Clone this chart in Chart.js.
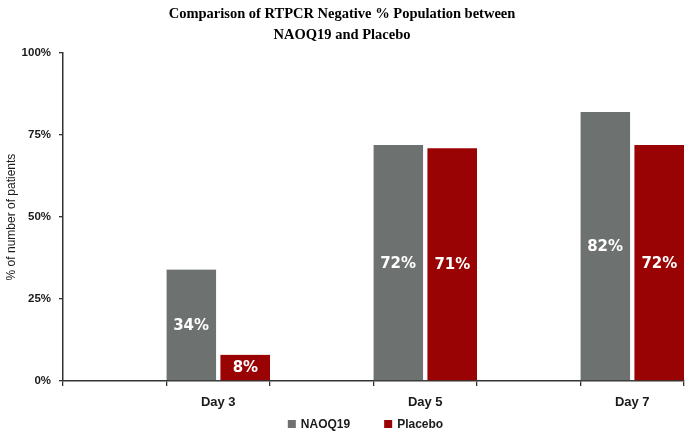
<!DOCTYPE html>
<html><head><meta charset="utf-8">
<script src="https://cdn.jsdelivr.net/npm/chart.js@4.4.0/dist/chart.umd.min.js"></script>
<style>html,body{margin:0;padding:0;background:#fff;} canvas{display:block;}</style>
</head><body>
<canvas id="c" width="685" height="433"></canvas>
<script>
// ---- data ----
const categories = ['Day 3', 'Day 5', 'Day 7'];
const naoq19 = [34, 72, 82];
const placebo = [8, 71, 72];
const yTicks = [0, 25, 50, 75, 100];
const seriesNames = ['NAOQ19', 'Placebo'];
const titleLines = ['Comparison of RTPCR Negative % Population between', 'NAOQ19 and Placebo'];
const yTitle = '% of number of patients';

// ---- styles ----
const colors = ['#6d716f', '#9a0303'];
const axisColor = '#333333';
const textColor = '#1a1a1a';

// In the original, every category is preceded by an empty half-slot
const xLabels = categories.flatMap(c => ['', c]);
const spread = arr => arr.flatMap(v => [null, v]);

const dataLabelPlugin = {
  id: 'dataLabels',
  afterDatasetsDraw(chart) {
    const ctx = chart.ctx;
    ctx.save();
    ctx.font = 'bold 15px "DejaVu Sans", Verdana, sans-serif';
    ctx.fillStyle = '#ffffff';
    ctx.textAlign = 'center';
    ctx.textBaseline = 'middle';
    chart.data.datasets.forEach((ds, i) => {
      const meta = chart.getDatasetMeta(i);
      meta.data.forEach((el, j) => {
        const v = ds.data[j];
        if (v === null || v === undefined) return;
        const shift = i === 0 ? -1.25 : 1.25;
        ctx.fillText(v + '%', el.x + shift, (el.y + el.base) / 2 + 1);
      });
    });
    ctx.restore();
  }
};

const legendPlugin = {
  id: 'customLegend',
  afterDraw(chart) {
    const ctx = chart.ctx;
    ctx.save();
    ctx.font = 'bold 12px "Liberation Sans", Arial, sans-serif';
    const box = 8, gapText = 5, gapItem = 34;
    const items = chart.data.datasets.map(d => ({ label: d.label, color: d.backgroundColor, w: ctx.measureText(d.label).width }));
    const total = items.reduce((s, it) => s + box + gapText + it.w, 0) + gapItem * (items.length - 1);
    let x = 365.5 - total / 2;
    const y = 424;
    ctx.textBaseline = 'middle';
    ctx.textAlign = 'left';
    items.forEach(it => {
      ctx.fillStyle = it.color;
      ctx.fillRect(x, y - box / 2, box, box);
      ctx.fillStyle = textColor;
      ctx.fillText(it.label, x + box + gapText, y + 0.5);
      x += box + gapText + it.w + gapItem;
    });
    ctx.restore();
  }
};

new Chart(document.getElementById('c'), {
  type: 'bar',
  data: {
    labels: xLabels,
    datasets: [
      { label: seriesNames[0], data: spread(naoq19), backgroundColor: colors[0],
        borderColor: '#ffffff', borderWidth: { top: 0, left: 0, bottom: 0, right: 2.5 }, borderSkipped: false,
        categoryPercentage: 1, barPercentage: 1 },
      { label: seriesNames[1], data: spread(placebo), backgroundColor: colors[1],
        borderColor: '#ffffff', borderWidth: { top: 0, left: 2.5, bottom: 0, right: 0 }, borderSkipped: false,
        categoryPercentage: 1, barPercentage: 1 }
    ]
  },
  options: {
    responsive: false,
    animation: false,
    layout: { padding: { left: 0, right: 1, top: 0, bottom: 0 } },
    plugins: {
      legend: { display: false },
      tooltip: { enabled: false },
      title: {
        display: true,
        text: titleLines,
        color: '#000',
        font: { family: '"Liberation Serif", "Times New Roman", serif', size: 14.5, weight: 'bold', lineHeight: 1.45 },
        padding: { top: 3.5, bottom: 7.5 }
      }
    },
    scales: {
      x: {
        grid: { display: true, drawOnChartArea: false, drawTicks: true, tickLength: 5, color: axisColor, lineWidth: 1.3, offset: true },
        border: { display: true, color: axisColor, width: 1.5 },
        ticks: { color: textColor, padding: 9, font: { family: '"Liberation Sans", Arial, sans-serif', size: 13, weight: 'bold' }, autoSkip: false, maxRotation: 0 },
        afterFit: s => { s.height = 52; }
      },
      y: {
        min: 0, max: 100,
        afterBuildTicks: s => { s.ticks = yTicks.map(v => ({ value: v })); },
        grid: { display: true, drawOnChartArea: false, drawTicks: true, tickLength: 4, color: axisColor, lineWidth: 1.3 },
        border: { display: true, color: axisColor, width: 1.5 },
        ticks: { color: textColor, padding: 8, callback: v => v + '%', font: { family: '"Liberation Sans", Arial, sans-serif', size: 11.5, weight: 'bold' } },
        title: { display: true, text: yTitle, color: textColor, padding: { top: 4, bottom: 0 }, font: { family: '"Liberation Sans", Arial, sans-serif', size: 12 } },
        afterFit: s => { s.width = 63; }
      }
    }
  },
  plugins: [dataLabelPlugin, legendPlugin]
});
</script>
</body></html>
